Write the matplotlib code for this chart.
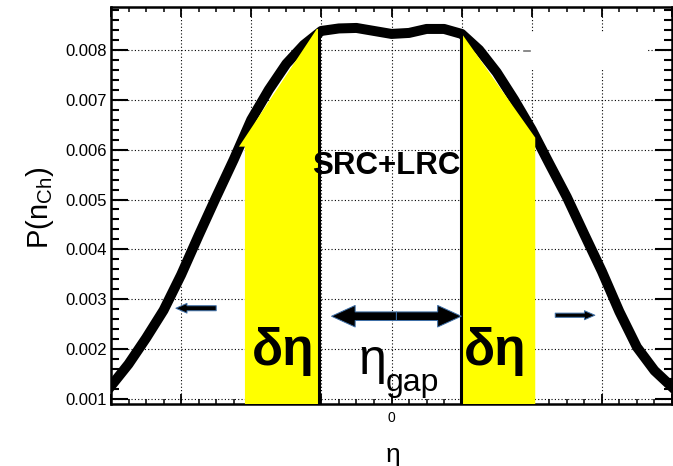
import numpy as np
import matplotlib
matplotlib.use('Agg')
import matplotlib.pyplot as plt
from matplotlib.patches import Polygon, Rectangle, FancyArrowPatch
from matplotlib.ticker import FixedLocator, MultipleLocator, FuncFormatter

plt.rcParams['font.family'] = ['Liberation Sans', 'DejaVu Sans']
plt.rcParams['mathtext.fontset'] = 'custom'
plt.rcParams['mathtext.rm'] = 'Liberation Sans'
plt.rcParams['mathtext.it'] = 'Liberation Sans:italic'

# multiplicity distribution vs pseudorapidity
eta = [-0.80, -0.75, -0.70, -0.65, -0.60, -0.55, -0.50, -0.45, -0.40, -0.35,
       -0.30, -0.25, -0.20, -0.15, -0.10, -0.05, 0.00, 0.05, 0.10, 0.15,
       0.20, 0.25, 0.30, 0.35, 0.40, 0.45, 0.50, 0.55, 0.60, 0.65,
       0.70, 0.75, 0.80]
p_nch = [0.00126, 0.00170, 0.00222, 0.00278, 0.00349, 0.00428, 0.00505, 0.00580, 0.00660, 0.00720,
         0.00772, 0.00810, 0.00838, 0.00843, 0.00844, 0.00838, 0.00832, 0.00834, 0.00842, 0.00842,
         0.00832, 0.00800, 0.00755, 0.00700, 0.00640, 0.00572, 0.00505, 0.00430, 0.00356, 0.00275,
         0.00204, 0.00157, 0.00124]

y_ticks = [0.001, 0.002, 0.003, 0.004, 0.005, 0.006, 0.007, 0.008]

# delta-eta windows and the gap between them
win_left = [-0.418, -0.208]
win_right = [0.199, 0.410]
left_top = [(-0.435, 0.00606), (-0.213, 0.00842)]
right_top = [(0.199, 0.00834), (0.410, 0.00624)]
gap_lines = [(-0.208, 0.00840), (0.199, 0.00834)]

ymin, ymax = 0.0009, 0.00886

fig = plt.figure(figsize=(6.73, 4.66), dpi=100)
ax = fig.add_axes([111/673, 1 - 404/466, 561/673, 397/466])

ax.plot(eta, p_nch, color='k', lw=7.2, solid_joinstyle='round', zorder=2)

# yellow windows
lp = [(win_left[0], ymin), (win_left[0], left_top[0][1]), left_top[0], left_top[1],
      (win_left[1], left_top[1][1]), (win_left[1], ymin)]
rp = [(win_right[0], ymin), right_top[0], right_top[1], (win_right[1], ymin)]
for pts in (lp, rp):
    ax.add_patch(Polygon(pts, closed=True, fc='#ffff00', ec='none', zorder=3))

for x, top in gap_lines:
    ax.plot([x, x], [ymin, top], color='k', lw=2.2, zorder=4)

# blanked box top right
ax.add_patch(Rectangle((0.37, 0.0076), 0.356, 0.00076, fc='white', ec='none', zorder=1))
ax.plot([0.378, 0.394], [0.00797, 0.00797], color='#777777', lw=1.2, zorder=1.5)

def arrow(x0, x1, y, tw, hw, hl):
    a = FancyArrowPatch((x0, y), (x1, y), shrinkA=0, shrinkB=0, mutation_scale=10,
                        arrowstyle=f'simple,tail_width={tw},head_width={hw},head_length={hl}',
                        fc='k', ec='#3d6fa8', lw=0.7, zorder=5)
    ax.add_patch(a)

mid = (-0.171 + 0.199) / 2
arrow(mid, -0.171, 0.00266, 0.62, 1.55, 1.7)
arrow(mid, 0.199, 0.00266, 0.62, 1.55, 1.7)
arrow(-0.50, -0.615, 0.00282, 0.36, 0.7, 0.8)
arrow(0.467, 0.58, 0.00268, 0.3, 0.65, 0.75)

ax.text(-0.016, 0.00568, 'SRC+LRC', fontsize=22.5, fontweight='bold',
        ha='center', va='center', zorder=6)
ax.text(-0.31, 0.00168, 'δη', fontsize=37, fontweight='bold',
        ha='center', va='baseline', zorder=6)
ax.text(0.296, 0.00168, 'δη', fontsize=37, fontweight='bold',
        ha='center', va='baseline', zorder=6)
ax.text(-0.094, 0.0015, 'η', fontsize=36, ha='left', va='baseline', zorder=6)
ax.text(-0.017, 0.00116, 'gap', fontsize=23, ha='left', va='baseline', zorder=6)

ax.set_xlim(-0.8, 0.8)
ax.set_ylim(ymin, ymax)

ax.xaxis.set_major_locator(MultipleLocator(0.2))
ax.xaxis.set_minor_locator(MultipleLocator(0.05))
ax.xaxis.set_major_formatter(FuncFormatter(lambda v, p: '0' if abs(v) < 1e-9 else ''))
ax.yaxis.set_major_locator(FixedLocator(y_ticks))
ax.yaxis.set_minor_locator(MultipleLocator(0.0002))
ax.yaxis.set_major_formatter(FuncFormatter(lambda v, p: f'{v:.3f}'))

ax.tick_params(axis='both', which='both', direction='in', top=True, right=True, color='k')
ax.tick_params(axis='y', which='major', length=12, width=1.5, labelsize=12, pad=3)
ax.tick_params(axis='y', which='minor', length=6, width=1.5)
ax.tick_params(axis='x', which='major', length=7, width=1.3, labelsize=10, pad=5)
ax.tick_params(axis='x', which='minor', length=3.6, width=1.1)
for s in ax.spines.values():
    s.set_linewidth(1.8)

ax.set_axisbelow(True)
ax.grid(True, which='major', color='k', lw=0.8, linestyle=(0, (1, 2)))

fig.text(393/673, 1 - 462/466, 'η', fontsize=19, ha='center', va='baseline')
fig.text(40/673, 1 - 208/466, r'P(n$_{\mathrm{Ch}}$)', fontsize=21, rotation=90,
         ha='center', va='center')

fig.savefig('out.png', dpi=100)
